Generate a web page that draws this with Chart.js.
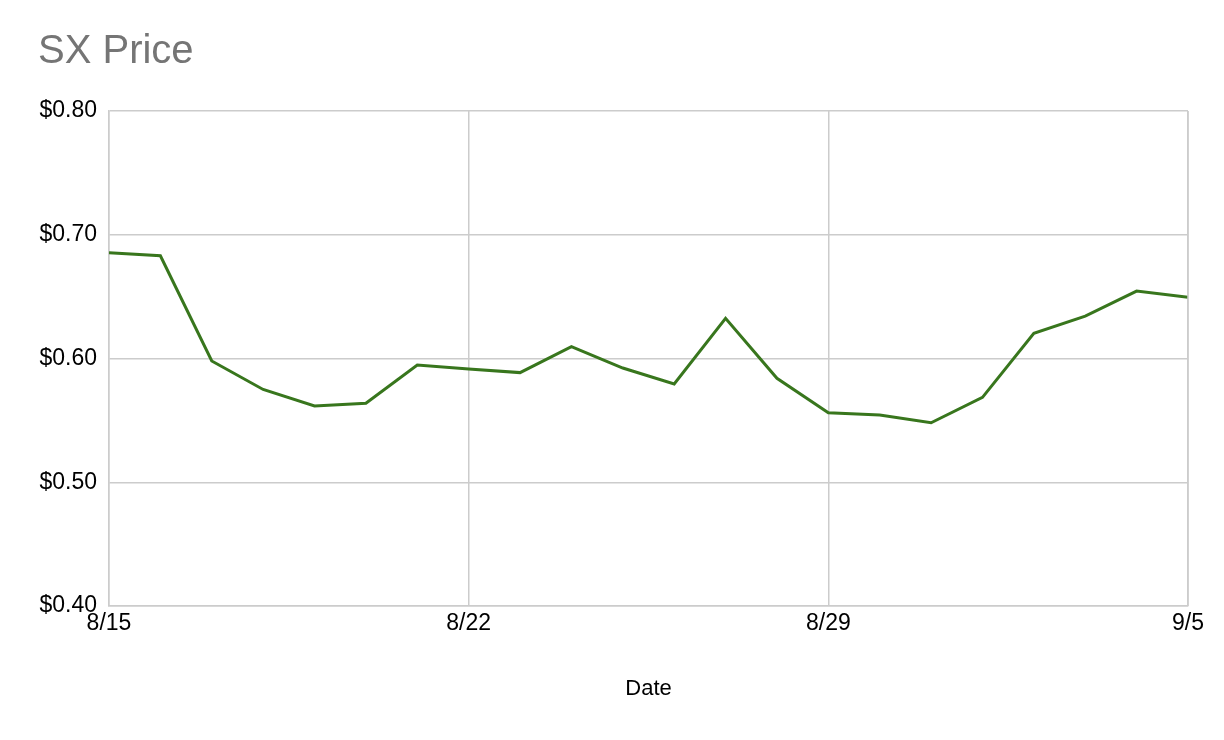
<!DOCTYPE html>
<html>
<head>
<meta charset="utf-8">
<script src="https://cdn.jsdelivr.net/npm/chart.js@4/dist/chart.umd.min.js"></script>
<style>
  html, body { margin: 0; padding: 0; background: #fff; }
  #wrap { width: 1224px; height: 740px; position: relative; }
</style>
</head>
<body>
<div id="wrap"><canvas id="c" width="1224" height="740"></canvas></div>
<script>
const dates = ["8/15","8/16","8/17","8/18","8/19","8/20","8/21","8/22","8/23","8/24","8/25",
               "8/26","8/27","8/28","8/29","8/30","8/31","9/1","9/2","9/3","9/4","9/5"];
const prices = [0.6855, 0.683, 0.598, 0.575, 0.5616, 0.5638, 0.5947, 0.5915, 0.5886, 0.6096, 0.5923,
                0.5794, 0.6325, 0.584, 0.5562, 0.5543, 0.5481, 0.5686, 0.6204, 0.6343, 0.6545, 0.6495];
const yTicks = [0.40, 0.50, 0.60, 0.70, 0.80];
const xTickEvery = 7;

const FONT = "'Liberation Sans', Arial, Helvetica, sans-serif";

const points = prices.map((p, i) => ({ x: i, y: p }));

new Chart(document.getElementById('c'), {
  type: 'line',
  data: {
    datasets: [{
      label: 'SX Price',
      data: points,
      borderColor: '#38761d',
      borderWidth: 3,
      pointRadius: 0,
      tension: 0,
      fill: false
    }]
  },
  options: {
    responsive: false,
    animation: false,
    layout: { padding: { left: 38, right: 36, top: 0, bottom: 0 } },
    plugins: {
      legend: { display: false },
      tooltip: { enabled: false },
      title: {
        display: true,
        text: 'SX Price',
        align: 'start',
        color: '#757575',
        font: { family: FONT, size: 40, weight: 'normal' },
        padding: { top: 28, bottom: 35 }
      }
    },
    scales: {
      x: {
        type: 'linear',
        min: 0,
        max: dates.length - 1,
        afterBuildTicks: (scale) => {
          scale.ticks = [];
          for (let i = 0; i < dates.length; i += xTickEvery) scale.ticks.push({ value: i });
        },
        afterFit: (scale) => { scale.height = 134; },
        ticks: {
          autoSkip: false,
          maxRotation: 0,
          padding: 4,
          color: '#000',
          font: { family: FONT, size: 23 },
          callback: (v) => dates[v]
        },
        grid: { color: '#cccccc', lineWidth: 1.5, drawTicks: false },
        border: { color: '#cccccc', width: 1.5 },
        title: {
          display: true,
          text: 'Date',
          color: '#000',
          font: { family: FONT, size: 22 },
          padding: { top: 0, bottom: 38 }
        }
      },
      y: {
        min: 0.4,
        max: 0.8,
        afterBuildTicks: (scale) => { scale.ticks = yTicks.map(v => ({ value: v })); },
        afterFit: (scale) => { scale.width = 71; },
        ticks: {
          padding: 12,
          color: '#000',
          font: { family: FONT, size: 23 },
          callback: (v) => '$' + Number(v).toFixed(2)
        },
        grid: { color: '#cccccc', lineWidth: 1.5, drawTicks: false },
        border: { color: '#cccccc', width: 1.5 }
      }
    }
  },
  plugins: [{
    id: 'rightBorder',
    afterDraw(chart) {
      const { ctx, chartArea } = chart;
      ctx.save();
      ctx.strokeStyle = '#cccccc';
      ctx.lineWidth = 1.5;
      ctx.beginPath();
      ctx.moveTo(chartArea.right, chartArea.top);
      ctx.lineTo(chartArea.right, chartArea.bottom);
      ctx.stroke();
      ctx.restore();
    }
  }]
});
</script>
</body>
</html>
